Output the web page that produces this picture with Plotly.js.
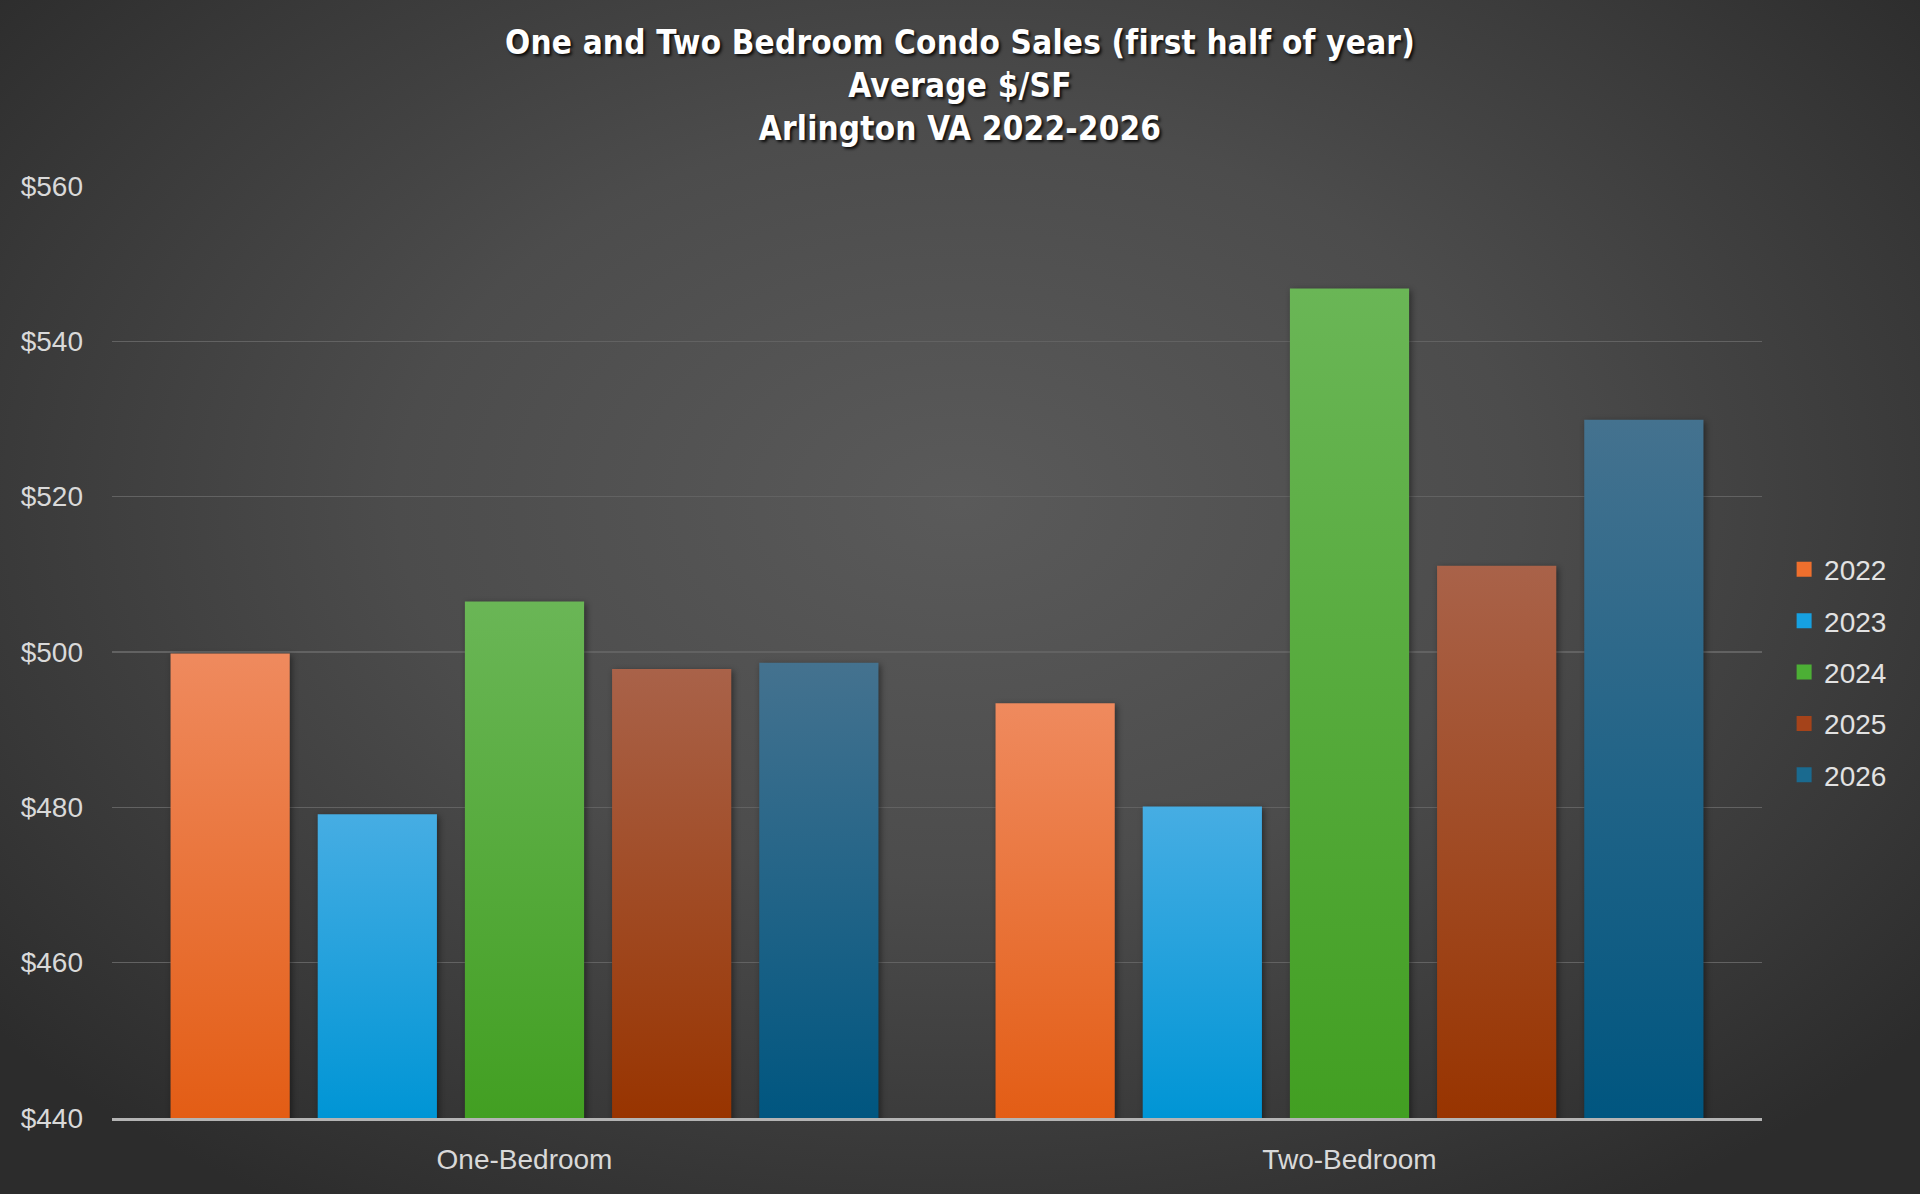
<!DOCTYPE html>
<html>
<head>
<meta charset="utf-8">
<script src="https://cdn.plot.ly/plotly-3.0.1.min.js"></script>
<style>
  html, body { margin: 0; padding: 0; }
  body {
    width: 1920px; height: 1194px; overflow: hidden;
    background: radial-gradient(ellipse 65% 70% at 50% 42%, #5a5a5a 0%, #4c4c4c 45%, #383838 80%, #2c2c2c 100%);
  }
  #chart { width: 1920px; height: 1194px; }
  .gtitle { letter-spacing: 0.2px; }
</style>
</head>
<body>
<div id="chart"></div>
<script>
// ---- data ----
const categories = ["One-Bedroom", "Two-Bedroom"];
const years = ["2022", "2023", "2024", "2025", "2026"];
const values2022 = [499.8, 493.4];
const values2023 = [479.1, 480.1];
const values2024 = [506.5, 546.8];
const values2025 = [497.8, 511.1];
const values2026 = [498.6, 529.9];
const yTickVals = [440, 460, 480, 500, 520, 540, 560];
const yTickText = ["$440", "$460", "$480", "$500", "$520", "$540", "$560"];
const chartTitle = "One and Two Bedroom Condo Sales (first half of year)<br>Average $/SF<br>Arlington VA 2022-2026";

// ---- styles ----
const seriesValues = [values2022, values2023, values2024, values2025, values2026];
const legendColors = ["#EE6F2D", "#16A0E0", "#4CAF35", "#A5431A", "#1A6A8F"];
const gradStops = [
  ["#EF8A5E", "#E35D15"],
  ["#46ADE3", "#0095D5"],
  ["#6AB656", "#429F22"],
  ["#A96249", "#983400"],
  ["#44728F", "#005680"]
];

const traces = years.map((yr, i) => ({
  type: "bar",
  name: yr,
  x: categories,
  y: seriesValues[i],
  legendgroup: yr,
  marker: { color: legendColors[i], line: { width: 0 } },
  hoverinfo: "skip"
}));

const layout = {
  width: 1920,
  height: 1194,
  paper_bgcolor: "rgba(0,0,0,0)",
  plot_bgcolor: "rgba(0,0,0,0)",
  margin: { l: 112, r: 158, t: 186, b: 76 },
  barmode: "group",
  bargap: 0.108,
  bargroupgap: 0.19,
  showlegend: true,
  font: { family: "Liberation Sans, Arial, sans-serif", color: "#d9d9d9", size: 28 },
  title: {
    text: chartTitle,
    x: 0.5,
    xanchor: "center",
    xref: "container",
    y: 0.955,
    yanchor: "top",
    font: {
      family: "Liberation Sans Narrow, DejaVu Sans Condensed, Liberation Sans, sans-serif",
      size: 33,
      weight: 700,
      color: "#ffffff",
      shadow: "2px 2px 3px rgba(0,0,0,0.85)"
    }
  },
  xaxis: {
    type: "category",
    showgrid: false,
    showline: true,
    linecolor: "#b4b4b4",
    linewidth: 3,
    ticks: "",
    ticklabelstandoff: 14,
    tickfont: { size: 28, color: "#d9d9d9" },
    fixedrange: true
  },
  yaxis: {
    range: [440, 560],
    tickmode: "array",
    tickvals: yTickVals,
    ticktext: yTickText,
    showgrid: true,
    gridcolor: "#626262",
    gridwidth: 1.5,
    zeroline: false,
    showline: false,
    ticks: "",
    ticklabelstandoff: 28,
    tickfont: { size: 28, color: "#d9d9d9" },
    fixedrange: true
  },
  legend: {
    x: 1.0134,
    xanchor: "left",
    y: 0.4785,
    yanchor: "middle",
    bgcolor: "rgba(0,0,0,0)",
    borderwidth: 0,
    tracegroupgap: 12,
    font: { size: 28, color: "#e2e2e2" },
    itemclick: false,
    itemdoubleclick: false
  }
};

Plotly.newPlot("chart", traces, layout, { displayModeBar: false, staticPlot: true }).then(gd => {
  const svgNS = "http://www.w3.org/2000/svg";
  const svg = gd.querySelector(".main-svg");
  let defs = svg.querySelector("defs");
  if (!defs) { defs = document.createElementNS(svgNS, "defs"); svg.insertBefore(defs, svg.firstChild); }
  const plotH = gd._fullLayout._size.h;
  let gid = 0;
  gd.querySelectorAll(".barlayer .trace").forEach((t, i) => {
    const st = gradStops[i];
    t.querySelectorAll("path").forEach(p => {
      const bb = p.getBBox();
      const top = bb.y;
      const bottom = Math.min(bb.y + bb.height, plotH);
      const lg = document.createElementNS(svgNS, "linearGradient");
      const id = "barGrad" + (gid++);
      lg.setAttribute("id", id);
      lg.setAttribute("gradientUnits", "userSpaceOnUse");
      lg.setAttribute("x1", "0"); lg.setAttribute("y1", String(top));
      lg.setAttribute("x2", "0"); lg.setAttribute("y2", String(bottom));
      [[0, st[0]], [1, st[1]]].forEach(([off, col]) => {
        const s = document.createElementNS(svgNS, "stop");
        s.setAttribute("offset", off);
        s.setAttribute("stop-color", col);
        lg.appendChild(s);
      });
      defs.appendChild(lg);
      p.style.fill = "url(#" + id + ")";
      p.style.filter = "drop-shadow(2px 2px 3px rgba(0,0,0,0.45))";
    });
  });
  gd.querySelectorAll(".legend .legendpoints path").forEach(p => {
    p.setAttribute("d", "M7.5,7.5H-7.5V-7.5H7.5Z");
  });
});
</script>
</body>
</html>
